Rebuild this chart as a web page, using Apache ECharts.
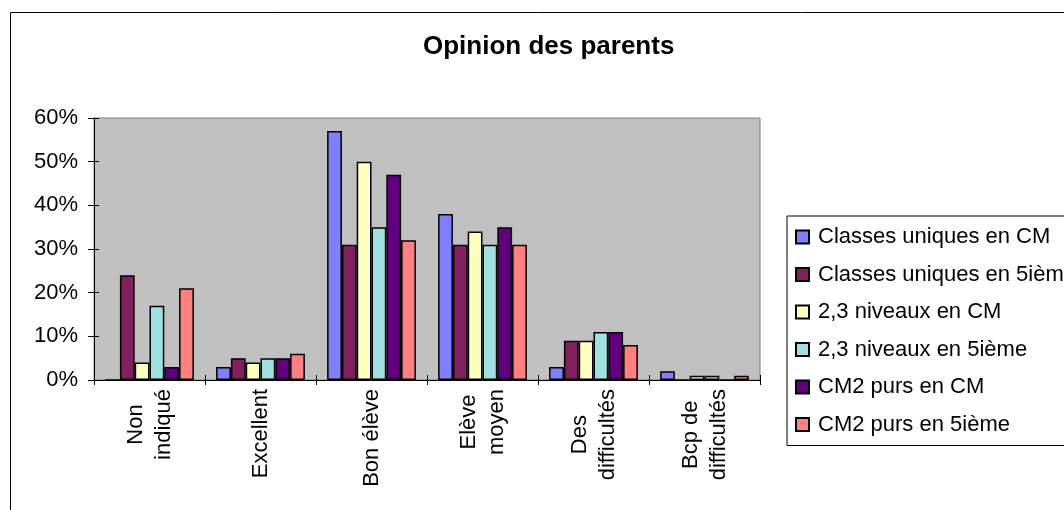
<!DOCTYPE html>
<html>
<head>
<meta charset="utf-8">
<script src="https://cdn.jsdelivr.net/npm/echarts@6/dist/echarts.min.js"></script>
<style>
  html, body { margin: 0; padding: 0; background: #fff; }
  #chart { width: 1064px; height: 510px; }
</style>
</head>
<body>
<div id="chart"></div>
<script>
// Opinion des parents — percentages per class type
const categories = ['Non\nindiqué', 'Excellent', 'Bon élève', 'Elève\nmoyen', 'Des\ndifficultés', 'Bcp de\ndifficultés'];
const seriesNames = [
  'Classes uniques en CM',
  'Classes uniques en 5ième',
  '2,3 niveaux en CM',
  '2,3 niveaux en 5ième',
  'CM2 purs en CM',
  'CM2 purs en 5ième'
];
const classesUniquesCM   = [0, 3, 57, 38, 3, 2];
const classesUniques5    = [24, 5, 31, 31, 9, 0];
const niveaux23CM        = [4, 4, 50, 34, 9, 1];
const niveaux235         = [17, 5, 35, 31, 11, 1];
const cm2PursCM          = [3, 5, 47, 35, 11, 0];
const cm2Purs5           = [21, 6, 32, 31, 8, 1];
const seriesValues = [classesUniquesCM, classesUniques5, niveaux23CM, niveaux235, cm2PursCM, cm2Purs5];
const seriesColors = ['#8080ff', '#80205f', '#ffffc0', '#a0e0e0', '#600080', '#ff8080'];
const yTicks = [0, 10, 20, 30, 40, 50, 60];

const FONT = '"Liberation Sans", Arial, sans-serif';
const LABEL_SIZE = 22;

const chart = echarts.init(document.getElementById('chart'), null, { renderer: 'canvas' });

const series = seriesNames.map((name, i) => ({
  name: name,
  type: 'bar',
  xAxisIndex: 0,
  yAxisIndex: 0,
  data: seriesValues[i],
  barGap: '0%',
  barCategoryGap: '20%',
  itemStyle: { color: seriesColors[i], borderColor: '#000', borderWidth: 1.5 },
  emphasis: { disabled: true },
  animation: false
}));

const option = {
  animation: false,
  backgroundColor: '#fff',
  textStyle: { fontFamily: FONT },
  graphic: [{
    type: 'rect',
    z: -10,
    shape: { x: 10.5, y: 12.5, width: 1200, height: 1000 },
    style: { fill: 'none', stroke: '#000', lineWidth: 1 }
  }],
  title: {
    text: 'Opinion des parents',
    left: 418,
    top: 29,
    textStyle: { fontFamily: FONT, fontSize: 26, fontWeight: 'bold', color: '#000' }
  },
  legend: {
    orient: 'vertical',
    left: 787,
    top: 216,
    padding: [10, 40, 10, 8],
    itemGap: 15.5,
    itemWidth: 13,
    itemHeight: 13,
    icon: 'rect',
    borderColor: '#000',
    borderWidth: 1,
    backgroundColor: '#fff',
    selectedMode: false,
    textStyle: { fontFamily: FONT, fontSize: LABEL_SIZE, color: '#000', padding: [0, 0, 0, 4] },
    data: seriesNames
  },
  grid: {
    left: 94,
    top: 118,
    width: 666,
    height: 262,
    show: true,
    backgroundColor: '#c0c0c0',
    borderColor: '#808080',
    borderWidth: 1
  },
  xAxis: [{
    type: 'category',
    data: categories,
    position: 'bottom',
    axisLine: { show: true, lineStyle: { color: '#000', width: 1 } },
    axisTick: { show: true, length: 5, lineStyle: { color: '#000' } },
    splitLine: { show: false },
    axisLabel: {
      rotate: 90,
      margin: 9,
      interval: 0,
      color: '#000',
      fontFamily: FONT,
      fontSize: LABEL_SIZE,
      lineHeight: 28,
      formatter: v => v.split('\n').map(s => '{c|' + s + '}').join('\n'),
      rich: { c: { align: 'center', fontFamily: FONT, fontSize: LABEL_SIZE, lineHeight: 28, color: '#000' } }
    }
  }, {
    type: 'category',
    data: categories,
    position: 'bottom',
    axisLine: { show: false },
    axisTick: { show: true, inside: true, length: 5, lineStyle: { color: '#000' } },
    axisLabel: { show: false },
    splitLine: { show: false }
  }],
  yAxis: [{
    type: 'value',
    min: yTicks[0],
    max: yTicks[yTicks.length - 1],
    interval: 10,
    position: 'left',
    axisLine: { show: true, lineStyle: { color: '#000', width: 1 } },
    axisTick: { show: true, length: 6, lineStyle: { color: '#000' } },
    splitLine: { show: false },
    axisLabel: {
      margin: 16,
      color: '#000',
      fontFamily: FONT,
      fontSize: LABEL_SIZE,
      formatter: '{value}%'
    }
  }, {
    type: 'value',
    min: yTicks[0],
    max: yTicks[yTicks.length - 1],
    interval: 10,
    position: 'left',
    axisLine: { show: false },
    axisTick: { show: true, inside: true, length: 5, lineStyle: { color: '#000' } },
    axisLabel: { show: false },
    splitLine: { show: false }
  }],
  series: series
};

chart.setOption(option);
</script>
</body>
</html>
